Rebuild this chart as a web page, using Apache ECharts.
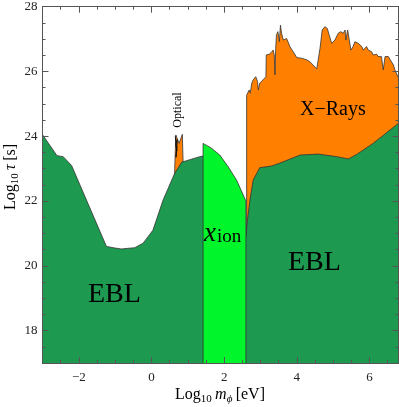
<!DOCTYPE html>
<html>
<head>
<meta charset="utf-8">
<script src="https://cdn.jsdelivr.net/npm/echarts@6/dist/echarts.min.js"></script>
<style>html,body{margin:0;padding:0;background:#fff}#c{width:399px;height:407px}</style>
</head>
<body>
<div id="c"></div>
<script>
// ---- data ----
var xMajorTicks = [-2, 0, 2, 4, 6];
var yMajorTicks = [18, 20, 22, 24, 26, 28];
var xMinorTicks = [-3,-2.5,-1.5,-1,-0.5,0.5,1,1.5,2.5,3,3.5,4.5,5,5.5,6.5];
var yMinorTicks = [17,17.5,18.5,19,19.5,20.5,21,21.5,22.5,23,23.5,24.5,25,25.5,26.5,27,27.5];

var eblBoundary = [
  [-3,17],[-3,24.05],[-2.6,23.4],[-2.43,23.37],[-2.2,23.1],[-1.79,22.03],[-1.24,20.6],
  [-1.01,20.55],[-0.83,20.52],[-0.46,20.56],[-0.23,20.7],[0.04,21.1],[0.32,22.03],
  [0.64,22.86],[0.83,23.2],[1.33,23.37],[1.42,23.39],[2.0,22.0],[2.6,20.9],
  [2.64,21.4],[2.71,22.03],[2.8,22.65],[2.98,23.03],[3.3,23.08],[3.53,23.17],
  [4.09,23.42],[4.59,23.45],[5.1,23.37],[5.42,23.3],[5.65,23.44],[6.1,23.78],[6.8,24.4],[6.8,17]
];
var xionBoundary = [
  [1.42,17],[1.42,23.78],[1.65,23.63],[1.88,23.42],[2.11,23.06],[2.34,22.65],[2.6,22.0],[2.6,17]
];
var opticalBoundary = [
  [0.64,17],[0.64,23.0],[0.67,24.04],[0.76,23.78],[0.85,24.06],[0.87,23.2],[0.87,17]
];
var opticalStrokes = [
  [0.655,24.0],[0.70,23.55],[0.665,23.75],[0.71,23.9],[0.675,23.35],[0.70,23.7]
];
var xrayBoundary = [
  [2.62,17],[2.62,25.27],[2.66,25.22],[2.69,25.43],[2.72,25.33],[2.76,25.64],[2.8,25.74],
  [2.87,25.84],[2.92,25.69],[2.94,25.43],[2.98,25.64],[3.07,25.74],[3.15,25.84],
  [3.16,26.51],[3.24,26.53],[3.3,26.59],[3.35,26.66],[3.38,26.51],[3.40,25.9],[3.42,26.72],
  [3.44,27.13],[3.48,27.23],[3.52,26.92],[3.55,27.43],[3.58,27.18],[3.63,26.97],[3.72,27.02],
  [3.81,26.77],[3.9,26.61],[4.0,26.43],[4.13,26.41],[4.27,26.36],[4.36,26.3],[4.45,26.2],
  [4.55,26.08],[4.59,26.1],[4.64,26.72],[4.7,27.28],[4.77,27.38],[4.84,27.33],[4.89,27.13],
  [4.96,26.87],[5.0,26.82],[5.05,26.97],[5.14,27.18],[5.21,27.23],[5.28,27.18],[5.33,27.28],
  [5.35,26.97],[5.4,27.28],[5.44,27.33],[5.49,26.66],[5.55,26.77],[5.6,26.92],[5.69,26.87],
  [5.79,26.77],[5.83,26.66],[5.88,26.61],[5.92,26.77],[5.97,26.66],[6.06,26.61],[6.1,26.51],
  [6.15,26.46],[6.2,26.53],[6.24,26.46],[6.29,26.51],[6.33,26.46],[6.38,26.05],[6.43,26.46],
  [6.52,26.46],[6.56,26.41],[6.66,26.2],[6.7,26.05],[6.8,25.8],[6.8,17]
];
var xMin = -3, xMax = 6.8, yMin = 17, yMax = 28;

// ---- styling ----
var FONT = '"Liberation Serif", "DejaVu Serif", serif';
var FRAME = '#555';
var DARK_GREEN = '#1d9950';
var BRIGHT_GREEN = '#00f52a';
var ORANGE = '#ff8000';
var EDGE = '#333';

function fmt(v){ return v < 0 ? '\u2212' + (-v) : String(v); }

function xAx(pos, ticks, len, labels){
  return {
    type:'value', min:xMin, max:xMax, position:pos, z:20,
    axisLine:{show:true, onZero:false, lineStyle:{color:FRAME, width:1}},
    splitLine:{show:false},
    axisTick:{show:true, inside:true, length:len, customValues:ticks, lineStyle:{color:FRAME, width:1}},
    axisLabel:{show:labels, customValues:ticks, formatter:fmt, fontFamily:FONT, fontSize:13, color:'#222', margin:8}
  };
}
function yAx(pos, ticks, len, labels){
  return {
    type:'value', min:yMin, max:yMax, position:pos, z:20,
    axisLine:{show:true, onZero:false, lineStyle:{color:FRAME, width:1}},
    splitLine:{show:false},
    axisTick:{show:true, inside:true, length:len, customValues:ticks, lineStyle:{color:FRAME, width:1}},
    axisLabel:{show:labels, customValues:ticks, formatter:fmt, fontFamily:FONT, fontSize:13, color:'#222', margin:5}
  };
}
function area(data, color, z){
  return {
    type:'line', data:data, xAxisIndex:0, yAxisIndex:0, showSymbol:false, symbol:'none',
    silent:true, animation:false, z:z,
    lineStyle:{color:EDGE, width:0.8},
    areaStyle:{color:color, opacity:1, origin:'start'}
  };
}

var chart = echarts.init(document.getElementById('c'), null, {renderer:'canvas'});
chart.setOption({
  animation:false,
  grid:{left:42.5, right:0.5, top:6.7, bottom:44, containLabel:false},
  xAxis:[
    xAx('bottom', xMajorTicks, 6, true),
    xAx('bottom', xMinorTicks, 3, false),
    xAx('top', xMajorTicks, 6, false),
    xAx('top', xMinorTicks, 3, false)
  ],
  yAxis:[
    yAx('left', yMajorTicks, 6, true),
    yAx('left', yMinorTicks, 3, false),
    yAx('right', yMajorTicks, 6, false),
    yAx('right', yMinorTicks, 3, false)
  ],
  series:[
    area(opticalBoundary, ORANGE, 2),
    {type:'line', data:opticalStrokes, showSymbol:false, symbol:'none', silent:true, z:3,
     lineStyle:{color:'#111', width:1}},
    area(xrayBoundary, ORANGE, 4),
    area(eblBoundary, DARK_GREEN, 5),
    area(xionBoundary, BRIGHT_GREEN, 6)
  ],
  graphic:[
    {type:'text', z:100, left:88, top:281, style:{text:'EBL', font:'28px ' + FONT, fill:'#000'}},
    {type:'text', z:100, left:288, top:249, style:{text:'EBL', font:'28px ' + FONT, fill:'#000'}},
    {type:'text', z:100, left:300, top:100, style:{text:'X\u2212Rays', font:'20px ' + FONT, fill:'#000'}},
    {type:'text', z:100, left:204, top:220, style:{
      text:'{a|x}{b|ion}',
      rich:{
        a:{fontFamily:FONT, fontSize:27, fontStyle:'italic', fill:'#000', lineHeight:30, verticalAlign:'bottom'},
        b:{fontFamily:FONT, fontSize:19, fill:'#000', lineHeight:30, verticalAlign:'bottom', padding:[0,0,0,1]}
      }}},
    {type:'text', z:100, x:178, y:110, rotation:Math.PI/2, style:{text:'Optical', font:'12px ' + FONT, fill:'#000', align:'center', verticalAlign:'middle'}},
    {type:'text', z:100, x:11, y:177, rotation:Math.PI/2, style:{
      text:'{n|Log}{s|10} {i|\u03c4} {n|[s]}', align:'center', verticalAlign:'middle',
      rich:{
        n:{fontFamily:FONT, fontSize:16, fill:'#000'},
        s:{fontFamily:FONT, fontSize:11, fill:'#000', padding:[8,0,0,0]},
        i:{fontFamily:FONT, fontSize:16, fontStyle:'italic', fill:'#000'}
      }}},
    {type:'text', z:100, x:220, y:395, style:{
      text:'{n|Log}{s|10} {i|m}{t|\u03d5} {n|[eV]}', align:'center', verticalAlign:'middle',
      rich:{
        n:{fontFamily:FONT, fontSize:16, fill:'#000'},
        s:{fontFamily:FONT, fontSize:11, fill:'#000', padding:[8,0,0,0]},
        i:{fontFamily:FONT, fontSize:16, fontStyle:'italic', fill:'#000'},
        t:{fontFamily:FONT, fontSize:11, fontStyle:'italic', fill:'#000', padding:[8,0,0,0]}
      }}}
  ]
});
</script>
</body>
</html>
